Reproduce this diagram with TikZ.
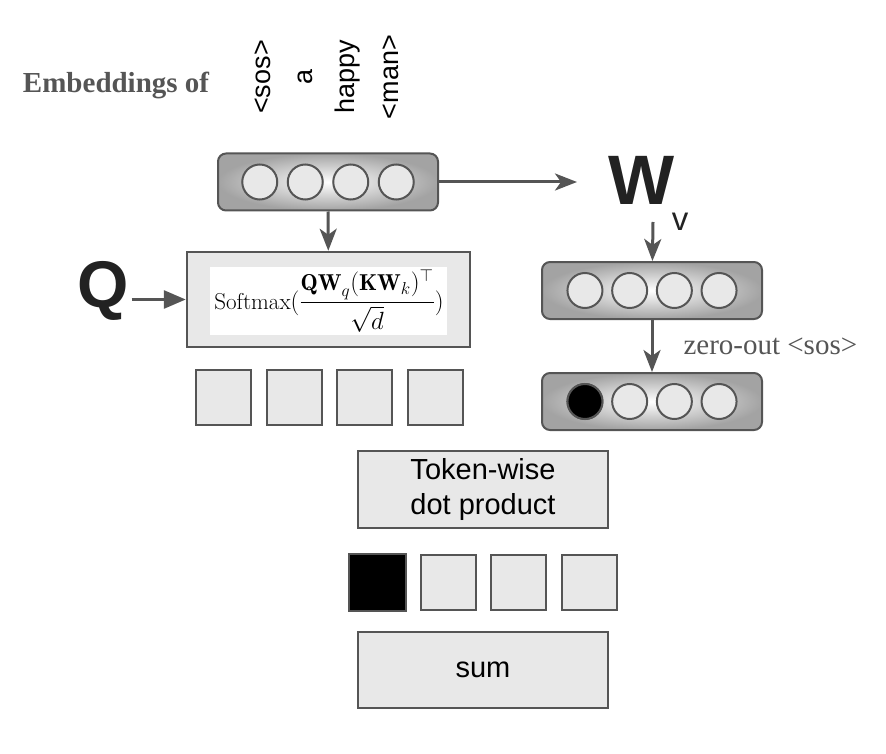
\documentclass[tikz,border=0pt]{standalone}
\usepackage{fontspec}
\usepackage{amsmath}
\usetikzlibrary{arrows.meta,positioning}
\newfontfamily\labelsans{Liberation Sans}
\newfontfamily\labelserif{Liberation Serif}
\definecolor{embline}{HTML}{555555}
\definecolor{embfill}{HTML}{E8E8E8}
\definecolor{embink}{HTML}{222222}

\begin{document}
\begin{tikzpicture}[x=1pt,y=-1pt,line width=2pt,
  bar/.style={draw=embline,rounded corners=8pt,minimum width=220pt,minimum height=57pt,
              inner color=white,outer color=black!36},
  dotc/.style={circle,draw=embline,fill=embfill,minimum size=35pt,inner sep=0pt},
  cell/.style={draw=embline,fill=embfill,minimum size=55pt,inner sep=0pt},
  panel/.style={draw=embline,fill=embfill,minimum width=250pt,minimum height=77pt,align=center,
                font=\labelsans\fontsize{29}{35}\selectfont},
  tok/.style={rotate=90,anchor=base,inner sep=0pt,font=\labelsans\fontsize{27}{30}\selectfont},
  big/.style={text=embink,inner sep=2pt,font=\labelsans\bfseries\fontsize{#1}{#1}\selectfont},
  arr/.style={-{Stealth[length=22pt,width=17pt,inset=6pt]},draw=embline,line width=3pt}]
\useasboundingbox (0,0) rectangle (886,754);

% input tokens
\node[anchor=base west,inner sep=0pt,text=embline,font=\labelserif\bfseries\fontsize{29}{30}\selectfont]
  (embof) at (22,93) {Embeddings of};
\node[tok] (tsos) at (270,77) {<sos>};
\node[tok] (ta) at (312,77) {a};
\node[tok] (thappy) at (354,77) {happy};
\node[tok] (tman) at (398,77) {<man>};

% embedding bar
\node[bar] (emb) at (328,182) {};
\foreach \i in {1,...,4}
  \node[dotc] (e\i) at ([xshift={(\i-2.5)*45.5pt}]emb.center) {};

% attention weights
\node[draw=embline,fill=embfill,line width=2.5pt,minimum width=283pt,minimum height=95pt]
  (soft) at (328.5,299.5) {};
\fill[white] (210,267) rectangle (447,335);
\node[inner sep=0pt,font=\fontsize{23}{27}\selectfont] (form) at (329,301)
  {$\displaystyle\mathrm{Softmax}(\frac{\mathbf{QW}_q(\mathbf{KW}_k)^\top}{\sqrt{d}})$};
\node[big=66] (Q) at (103,291) {Q};
\foreach \i in {1,...,4}
  \node[cell] (w\i) at ([xshift={(\i-2.5)*70.5pt}]329.5,397.5) {};

% value path
\node[big=70] (W) at (642,180) {W};
\node[text=embink,inner sep=0pt,font=\labelsans\fontsize{33}{33}\selectfont] (Wv) at (680,222) {v};
\coordinate (wtip) at (577,182);
\coordinate (wfoot) at (653,222);
\node[bar] (val) at (652,290.5) {};
\node[bar,below=52pt of val] (valz) {};
\foreach \i in {1,...,4}{
  \node[dotc] (v\i) at ([xshift={(\i-2.5)*44.7pt}]val.center) {};
  \node[dotc] (z\i) at ([xshift={(\i-2.5)*44.7pt}]valz.center) {};
}
\fill[black] (z1) circle (17.5pt);
\draw[embline] (z1) circle (17.5pt);

% combine
\node[panel] (dot) at (483,489.5) {Token-wise\\dot product};
\foreach \i in {1,...,4}
  \node[cell] (s\i) at ([xshift={(\i-2.5)*70.5pt}]483.5,582.5) {};
\fill[black] (s1.south west) rectangle (s1.north east);
\draw[embline] (s1.south west) rectangle (s1.north east);
\node[panel,minimum height=76pt] (sum) at (483,670) {sum};

% connectors
\draw[arr] (emb.east) -- (wtip);
\draw[arr] (emb) -- (soft);
\draw[arr,-{Triangle[length=22pt,width=18pt]}] (Q.east |- soft.west) -- (soft.west);
\draw[arr] (wfoot) -- (val);
\draw[arr] (val) -- (valz)
  node[midway,right=28pt,inner sep=2pt,text=embline,font=\labelserif\fontsize{29}{30}\selectfont]
  {zero-out <sos>};
\end{tikzpicture}
\end{document}
